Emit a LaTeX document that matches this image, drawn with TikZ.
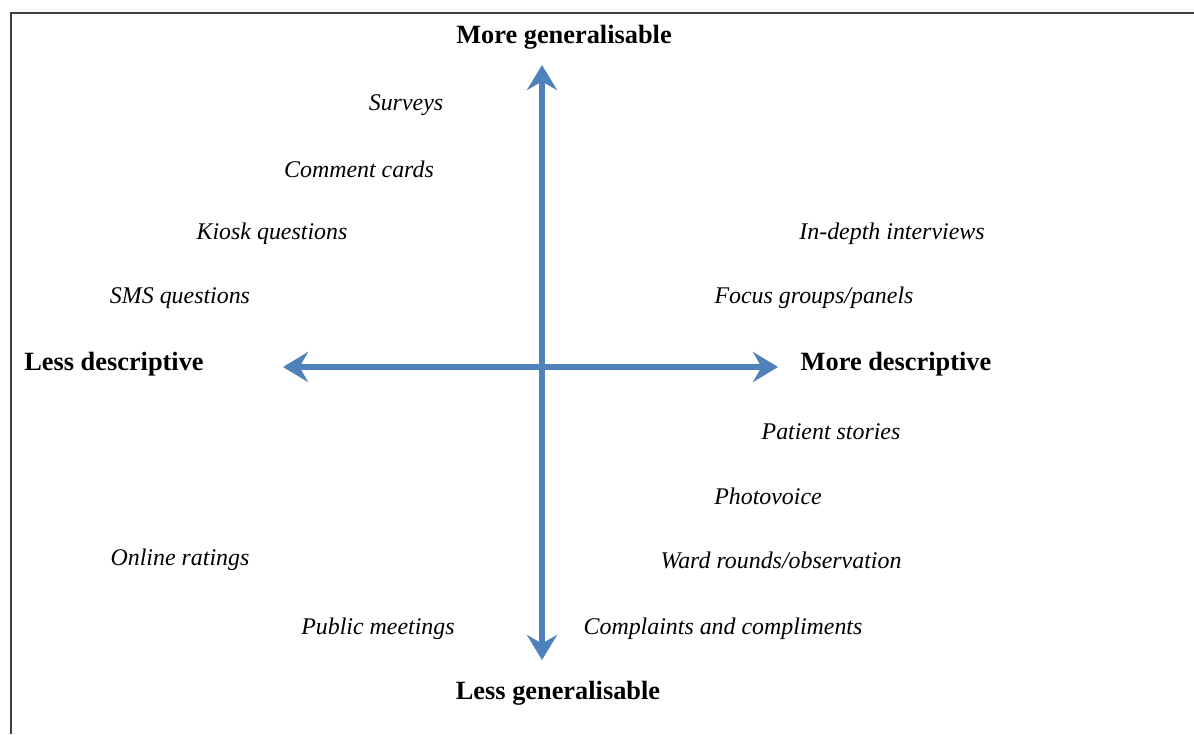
\documentclass[tikz,border=0pt]{standalone}
\usepackage{fontspec}
\setmainfont{Liberation Serif}
\usetikzlibrary{arrows.meta}
\definecolor{axisblue}{RGB}{79,129,189}
\tikzset{
  axislabel/.style={inner sep=0pt, font=\fontsize{15}{18}\selectfont\bfseries},
  method/.style={inner sep=0pt, font=\fontsize{13.6}{16}\selectfont\itshape},
  axis/.style={draw=axisblue, line width=2.9pt,
    {Stealth[length=0.5cm, width=0.6cm, inset=0.17cm]}-{Stealth[length=0.5cm, width=0.6cm, inset=0.17cm]}},
}
\begin{document}
\begin{tikzpicture}[x=0.02cm, y=-0.02cm]
\useasboundingbox (0,0) rectangle (1194,734);

% frame (top and left only)
\draw[line width=0.9pt, black!75] (11,734) -- (11,13) -- (1194,13);

% axis end points
\coordinate (top) at (542,65);
\coordinate (bot) at (542,660);
\coordinate (lft) at (283,367);
\coordinate (rgt) at (778,367);

\draw[axis] (bot) -- (top);
\draw[axis] (lft) -- (rgt);

% axis labels
\node[axislabel] (moregen) at (564,37) {More generalisable};
\node[axislabel] (lessgen) at (558,693) {Less generalisable};
\node[axislabel] (lessdesc) at (114,364) {Less descriptive};
\node[axislabel] (moredesc) at (896,364) {More descriptive};

% methods
\node[method] (surveys) at (406,105) {Surveys};
\node[method] (comment) at (359,169) {Comment cards};
\node[method] (kiosk) at (272,234) {Kiosk questions};
\node[method] (sms) at (180,298) {SMS questions};
\node[method] (indepth) at (892,234) {In-depth interviews};
\node[method] (focus) at (814,298) {Focus groups/panels};
\node[method] (stories) at (831,432) {Patient stories};
\node[method] (photo) at (768,496) {Photovoice};
\node[method] (ward) at (781,560) {Ward rounds/observation};
\node[method] (online) at (180,560) {Online ratings};
\node[method] (public) at (378,629) {Public meetings};
\node[method] (complaints) at (723,629) {Complaints and compliments};

\end{tikzpicture}
\end{document}
